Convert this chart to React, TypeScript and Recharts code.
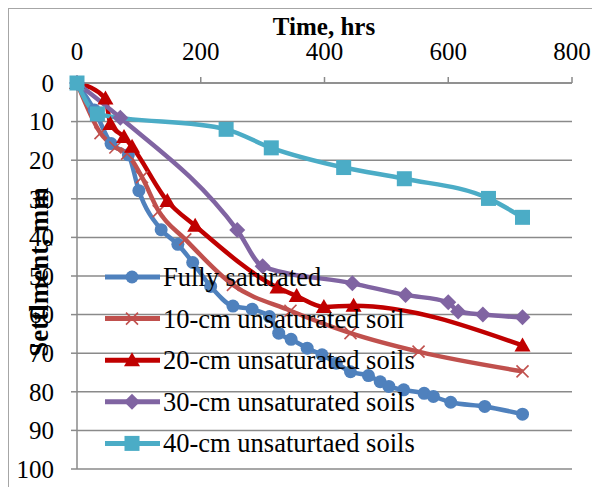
import { CartesianGrid, Line, LineChart, XAxis, YAxis } from "recharts";

const hourTicks = [0, 200, 400, 600, 800];
const settlementTicks = [0, 10, 20, 30, 40, 50, 60, 70, 80, 90, 100];

const satHours = [0, 28, 55, 83, 100, 136, 163, 187, 216, 252, 283, 311, 326, 346, 372, 396, 419, 442, 471, 490, 504, 528, 561, 576, 604, 659, 720];
const satSettlement = [0, 7, 15.7, 18.6, 27.9, 38, 41.8, 46.5, 52.7, 57.8, 58.6, 60.5, 64.8, 66.4, 68.7, 70.4, 72.6, 74.8, 75.8, 77.4, 78.6, 79.5, 80.4, 81.2, 82.7, 83.8, 85.8];

const cm10Hours = [0, 38, 62, 81, 105, 132, 175, 252, 345, 442, 552, 720];
const cm10Settlement = [0, 13, 16.7, 18.3, 24.4, 33.2, 40.5, 52.3, 59, 64.8, 69.6, 74.7];

const cm20Hours = [0, 46, 54, 76, 89, 146, 191, 324, 355, 399, 447, 720];
const cm20Settlement = [0, 4, 10.6, 14, 16.5, 30.6, 37, 53, 55.2, 58, 57.7, 68];

const cm30Hours = [0, 70, 259, 300, 445, 531, 600, 616, 656, 720];
const cm30Settlement = [0, 9, 38.1, 47.5, 51.9, 54.9, 56.8, 59.2, 60, 60.7];

const cm40Hours = [0, 33, 241, 314, 431, 529, 665, 720];
const cm40Settlement = [0, 8, 12, 16.8, 21.9, 24.8, 29.9, 34.8];

const seriesNames = [
  "Fully saturated",
  "10-cm unsaturated soil",
  "20-cm unsaturated soils",
  "30-cm unsaturated soils",
  "40-cm unsaturtaed soils",
];

const toRows = (xs: number[], ys: number[]) => xs.map((t, i) => ({ t, s: ys[i] }));

const FONT = "Liberation Serif, Times New Roman, serif";

type MarkerKind = "circle" | "cross" | "triangle" | "diamond" | "square";

function Marker({ kind, cx, cy, color }: { kind: MarkerKind; cx: number; cy: number; color: string }) {
  if (kind === "circle") return <circle cx={cx} cy={cy} r={6.5} fill={color} />;
  if (kind === "square") return <rect x={cx - 7.5} y={cy - 7.5} width={15} height={15} fill={color} />;
  if (kind === "triangle")
    return <polygon points={`${cx},${cy - 8} ${cx + 8},${cy + 6} ${cx - 8},${cy + 6}`} fill={color} />;
  if (kind === "diamond")
    return <polygon points={`${cx},${cy - 8} ${cx + 8},${cy} ${cx},${cy + 8} ${cx - 8},${cy}`} fill={color} />;
  return (
    <g stroke={color} strokeWidth={1.6}>
      <line x1={cx - 6} y1={cy - 6} x2={cx + 6} y2={cy + 6} />
      <line x1={cx - 6} y1={cy + 6} x2={cx + 6} y2={cy - 6} />
    </g>
  );
}

const series = [
  { name: seriesNames[0], data: toRows(satHours, satSettlement), color: "#4F81BD", kind: "circle" as MarkerKind },
  { name: seriesNames[1], data: toRows(cm10Hours, cm10Settlement), color: "#C0504D", kind: "cross" as MarkerKind },
  { name: seriesNames[2], data: toRows(cm20Hours, cm20Settlement), color: "#C00000", kind: "triangle" as MarkerKind },
  { name: seriesNames[3], data: toRows(cm30Hours, cm30Settlement), color: "#8064A2", kind: "diamond" as MarkerKind },
  { name: seriesNames[4], data: toRows(cm40Hours, cm40Settlement), color: "#4BACC6", kind: "square" as MarkerKind },
];

export default function App() {
  const tickStyle = { fontSize: 25, fill: "#000", fontFamily: FONT };
  return (
    <div style={{ position: "relative", width: 592, height: 480, border: "1px solid #a6a6a6", fontFamily: FONT }}>
      <LineChart width={592} height={480} margin={{ top: 44, right: 29, bottom: 20, left: 8 }}>
        <CartesianGrid vertical={false} stroke="#8a8a8a" strokeWidth={1.5} />
        <XAxis
          type="number"
          dataKey="t"
          orientation="top"
          domain={[0, 800]}
          ticks={hourTicks}
          height={30}
          tick={tickStyle}
          tickSize={6}
          tickMargin={17}
          stroke="#8a8a8a"
          strokeWidth={1.5}
          allowDuplicatedCategory={false}
        />
        <YAxis
          type="number"
          dataKey="s"
          reversed
          domain={[0, 100]}
          ticks={settlementTicks}
          width={60}
          tick={tickStyle}
          tickSize={6}
          tickMargin={17}
          stroke="#8a8a8a"
          strokeWidth={1.5}
        />
        {series.map((s) => (
          <Line
            key={s.name}
            data={s.data}
            dataKey="s"
            name={s.name}
            type="monotone"
            stroke={s.color}
            strokeWidth={4.5}
            isAnimationActive={false}
            dot={(p: any) => <Marker key={`${s.name}-${p.index}`} kind={s.kind} cx={p.cx} cy={p.cy} color={s.color} />}
          />
        ))}
      </LineChart>
      <svg width={592} height={480} style={{ position: "absolute", left: 0, top: 0, pointerEvents: "none" }}>
        <text x={315} y={26} textAnchor="middle" fontSize={25} fontWeight="bold" fontFamily={FONT}>
          Time, hrs
        </text>
        <text
          x={0}
          y={0}
          transform="translate(30, 263) rotate(-90)"
          textAnchor="middle"
          dominantBaseline="central"
          fontSize={27}
          fontWeight="bold"
          fontFamily={FONT}
        >
          Settlment, mm
        </text>
        {series.map((s, i) => {
          const y = 268 + i * 41.6;
          return (
            <g key={s.name}>
              <line x1={96} y1={y} x2={151} y2={y} stroke={s.color} strokeWidth={5} />
              <Marker kind={s.kind} cx={123} cy={y} color={s.color} />
              <text x={154} y={y} dominantBaseline="central" fontSize={26.5} fontFamily={FONT}>
                {s.name}
              </text>
            </g>
          );
        })}
      </svg>
    </div>
  );
}
